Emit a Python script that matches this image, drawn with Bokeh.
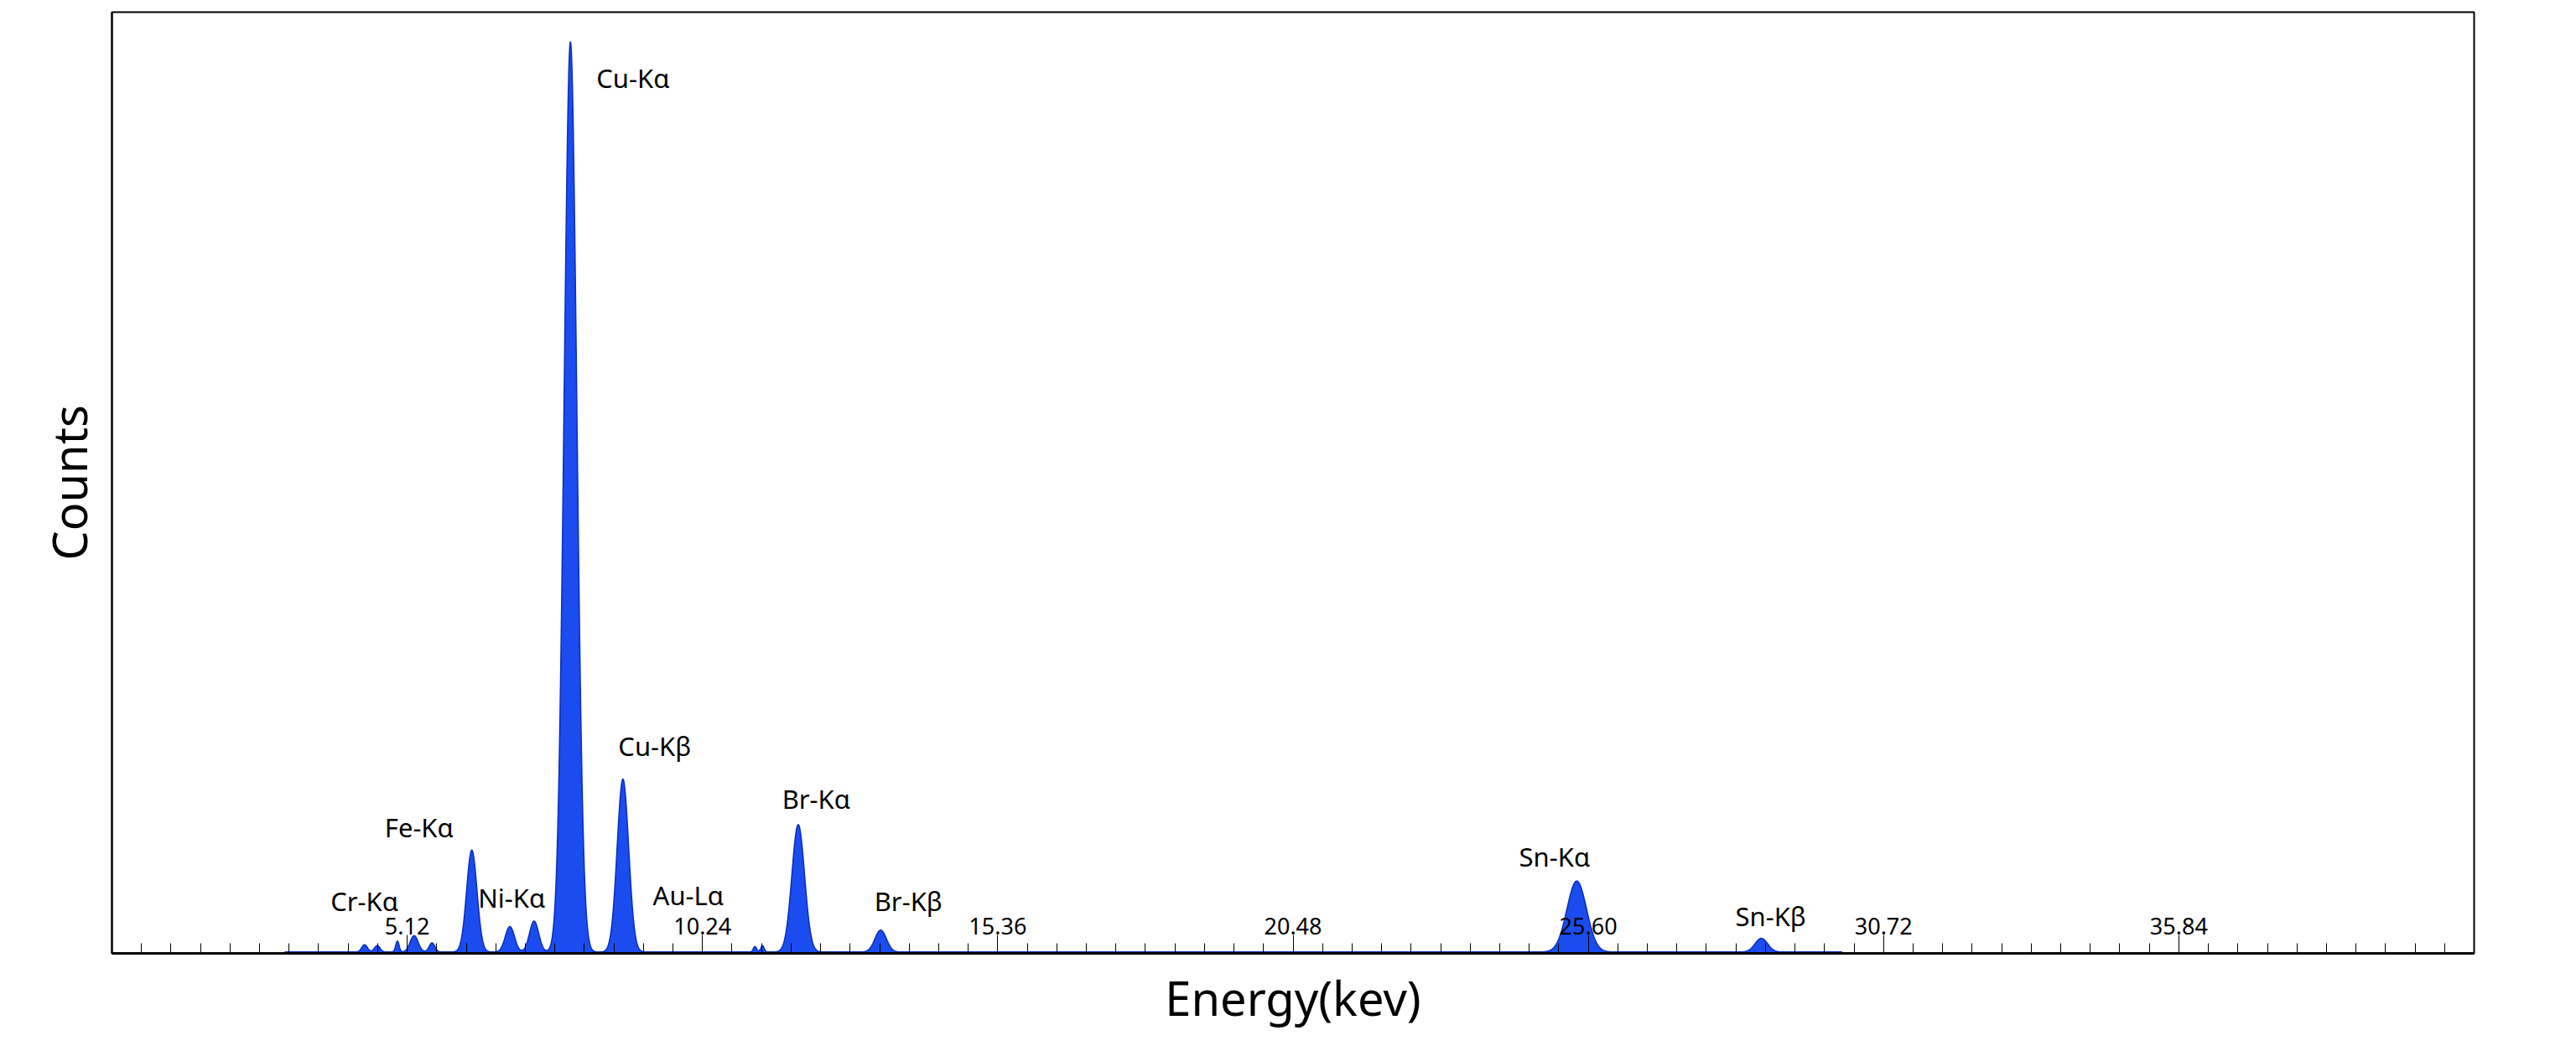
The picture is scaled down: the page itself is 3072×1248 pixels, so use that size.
import numpy as np
from bokeh.plotting import figure
from bokeh.models import FixedTicker, ColumnDataSource
from bokeh.core.properties import value
from bokeh.embed import file_html
from bokeh.resources import INLINE

# peaks: centre (keV), relative height, width (sigma, keV)
peak_centers = [4.38, 4.60, 4.95, 5.24, 5.55, 6.24, 6.90, 7.32, 7.95, 8.86, 11.15, 11.28, 11.90, 13.33, 25.40, 28.60]
peak_heights = [0.008, 0.007, 0.012, 0.018, 0.010, 0.112, 0.028, 0.034, 1.000, 0.190, 0.006, 0.007, 0.140, 0.024, 0.078, 0.015]
peak_widths = [0.05, 0.05, 0.03, 0.07, 0.05, 0.09, 0.08, 0.08, 0.11, 0.10, 0.03, 0.03, 0.11, 0.10, 0.17, 0.11]

tick_values = [5.12, 10.24, 15.36, 20.48, 25.60, 30.72, 35.84]
tick_labels = ["5.12", "10.24", "15.36", "20.48", "25.60", "30.72", "35.84"]

peak_names = ["Cu-Kα", "Cu-Kβ", "Fe-Kα", "Cr-Kα", "Ni-Kα", "Au-Lα", "Br-Kα", "Br-Kβ", "Sn-Kα", "Sn-Kβ"]
name_x = [8.40, 8.78, 4.73, 3.79, 6.35, 9.38, 11.62, 13.22, 24.40, 28.15]
name_y = [0.962, 0.228, 0.139, 0.058, 0.061, 0.064, 0.170, 0.058, 0.106, 0.041]

energy = np.linspace(0, 40.96, 8000)
counts = np.full_like(energy, 0.0)
for c, h, w in zip(peak_centers, peak_heights, peak_widths):
    counts += h * np.exp(-0.5 * ((energy - c) / w) ** 2)
counts += np.where((energy > 3.0) & (energy < 30), 0.0015, 0.0)

p = figure(width=3056, height=1232, x_range=(0, 40.96), y_range=(0, 1.034),
           output_backend="svg", toolbar_location=None,
           min_border_left=133, min_border_right=106, min_border_top=14, min_border_bottom=95)
p.grid.visible = False
p.outline_line_color = "black"
p.outline_line_width = 2
p.background_fill_color = "white"

p.varea(x=energy, y1=0, y2=counts, fill_color="#1a4cf0")
p.line(x=energy, y=counts, line_color="#0a2fb8", line_width=1.5)

ax = p.xaxis[0]
ax.ticker = FixedTicker(ticks=tick_values,
                        minor_ticks=[i * 0.512 for i in range(1, 80)])
ax.major_tick_in = 22
ax.major_tick_out = 0
ax.minor_tick_in = 12
ax.minor_tick_out = 0
ax.major_label_overrides = {v: "" for v in tick_values}
ax.axis_line_width = 3
ax.axis_label = "Energy(kev)"
ax.axis_label_text_font = "Noto Sans"
ax.axis_label_text_font_size = "56px"
ax.axis_label_text_font_style = "normal"
ax.axis_label_text_color = "black"
ax.axis_label_standoff = 14

ay = p.yaxis[0]
ay.ticker = FixedTicker(ticks=[])
ay.axis_line_width = 2
ay.axis_label = "Counts"
ay.axis_label_text_font = "Noto Sans"
ay.axis_label_text_font_size = "56px"
ay.axis_label_text_font_style = "normal"
ay.axis_label_text_color = "black"
ay.axis_label_standoff = 14

tsrc = ColumnDataSource(dict(x=tick_values, y=[0.030] * len(tick_values), t=tick_labels))
p.text(x="x", y="y", text="t", source=tsrc, text_align="center", text_baseline="middle",
       text_font=value("Noto Sans"), text_font_size="27px", text_color="black")

nsrc = ColumnDataSource(dict(x=name_x, y=name_y, t=peak_names))
p.text(x="x", y="y", text="t", source=nsrc, text_align="left", text_baseline="middle",
       text_font=value("Noto Sans"), text_font_size="31px", text_color="black")

open("out.html", "w").write(file_html(p, INLINE))
